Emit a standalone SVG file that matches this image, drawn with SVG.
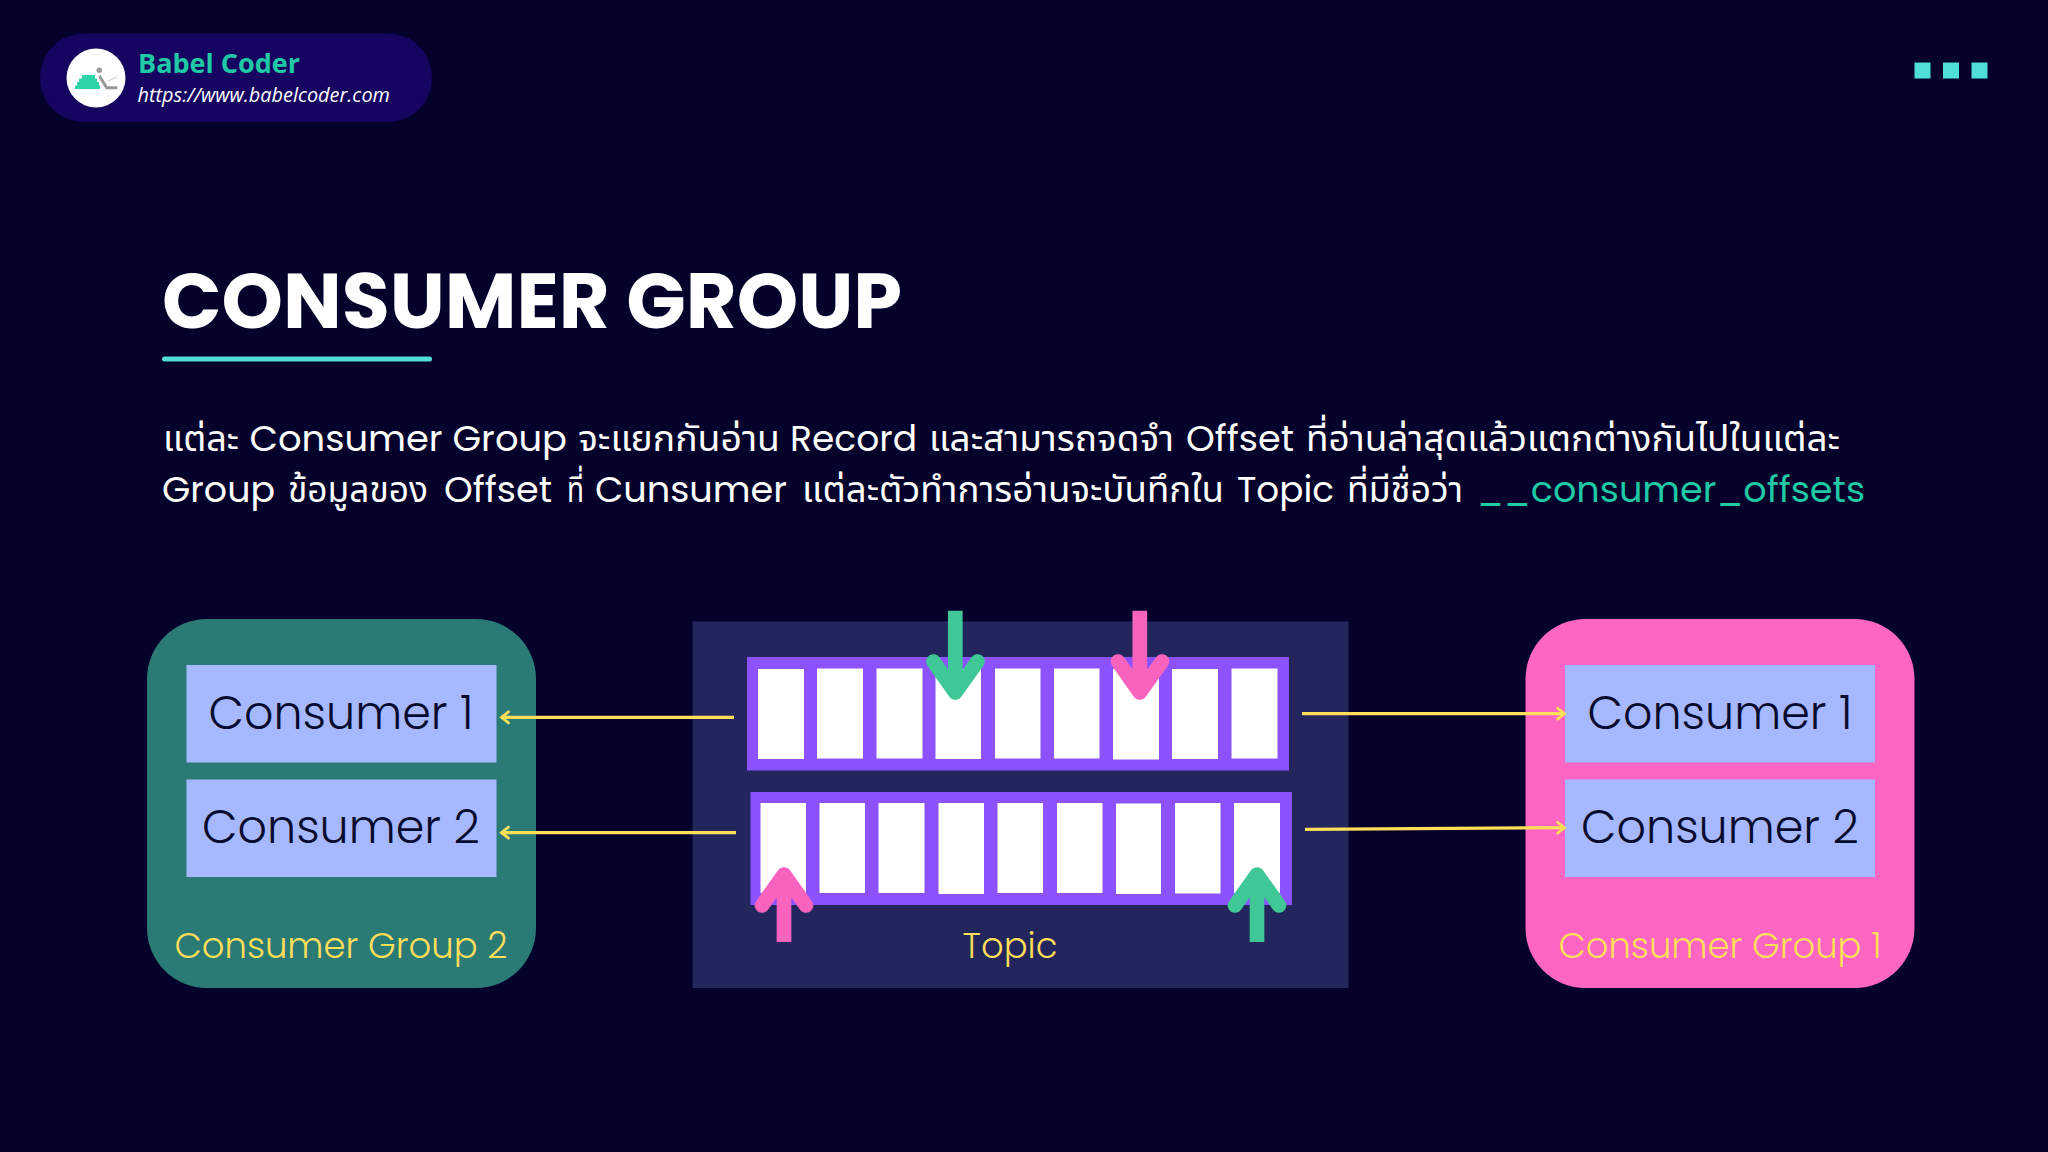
<svg xmlns="http://www.w3.org/2000/svg" width="2048" height="1152" viewBox="0 0 2048 1152">
<defs>
<marker id="arr" markerWidth="12" markerHeight="16" refX="10" refY="8" orient="auto" markerUnits="userSpaceOnUse"><path d="M2.500 2.500 L9.500 8 L2.500 13.500" fill="none" stroke="#ffde59" stroke-width="2.800" stroke-linecap="round"/></marker>
</defs>
<style>
.c{fill:#a6b8ff}
.ct{font-family:"Poppins","Inter","Noto Sans",sans-serif;font-size:46px;font-weight:300;fill:#060b2e;text-anchor:middle}
.gt{font-family:"Poppins","Inter","Noto Sans",sans-serif;font-size:35.400px;font-weight:300;fill:#ffde59;text-anchor:middle}
.b{font-family:"Poppins","Inter","Noto Sans","Noto Sans Thai",sans-serif;font-size:36px;fill:#fff}
.w{fill:#fff}
.p{fill:#8c52ff}
.l{stroke:#ffde59;stroke-width:3.200;fill:none}
</style>
<rect width="2048" height="1152" fill="#04012b"/>
<g id="badge">
<rect x="40" y="33.500" width="392" height="88.500" rx="44" fill="#150561"/>
<circle cx="96" cy="78" r="29.500" fill="#fff"/>
<path d="M82 75h13v3.500h-13zM79 78.500h18v3.500h-18zM77 82h22v3.500h-22zM75 85.500h25v3.500h-25z" fill="#2dd4a8"/>
<circle cx="99.300" cy="70.300" r="2.700" fill="#999"/>
<path d="M99.300 75.700l7.400 12h10.600" stroke="#999" stroke-width="3" fill="none"/>
<path d="M108 81l9-4" stroke="#bbb" stroke-width="0.800" fill="none"/>
<text x="138" y="73" font-family="Open Sans,Noto Sans,sans-serif" font-size="27" font-weight="700" fill="#20c9a6">Babel Coder</text>
<text x="137.500" y="102" font-family="Open Sans,Noto Sans,sans-serif" font-size="19.900" font-style="italic" fill="#fff">https://www.babelcoder.com</text>
</g>
<g id="dots" fill="#4fdfd8"><rect x="1914.500" y="62.500" width="16" height="16"/><rect x="1943" y="62.500" width="16" height="16"/><rect x="1971.500" y="62.500" width="16" height="16"/></g>
<text id="title" x="162" y="328" font-family="Poppins,Inter,Noto Sans,sans-serif" font-size="77" font-weight="700" fill="#fff" textLength="740" lengthAdjust="spacingAndGlyphs">CONSUMER GROUP</text>
<rect x="162" y="356.500" width="270" height="5" rx="2.500" fill="#4fdfd8"/>
<text class="b" y="450.500"><tspan x="163" textLength="76" lengthAdjust="spacingAndGlyphs">แต่ละ</tspan> <tspan x="249.500" textLength="317.500" lengthAdjust="spacingAndGlyphs">Consumer Group</tspan> <tspan x="578" textLength="202" lengthAdjust="spacingAndGlyphs">จะแยกกันอ่าน</tspan> <tspan x="790" textLength="127" lengthAdjust="spacingAndGlyphs">Record</tspan> <tspan x="929" textLength="245" lengthAdjust="spacingAndGlyphs">และสามารถจดจำ</tspan> <tspan x="1186" textLength="108" lengthAdjust="spacingAndGlyphs">Offset</tspan> <tspan x="1306" textLength="534" lengthAdjust="spacingAndGlyphs">ที่อ่านล่าสุดแล้วแตกต่างกันไปในแต่ละ</tspan></text>
<text class="b" y="501.500"><tspan x="162" textLength="113" lengthAdjust="spacingAndGlyphs">Group</tspan> <tspan x="288" textLength="140" lengthAdjust="spacingAndGlyphs">ข้อมูลของ</tspan> <tspan x="444" textLength="108" lengthAdjust="spacingAndGlyphs">Offset</tspan> <tspan x="567" textLength="17" lengthAdjust="spacingAndGlyphs">ที่</tspan> <tspan x="595" textLength="192" lengthAdjust="spacingAndGlyphs">Cunsumer</tspan> <tspan x="802" textLength="422" lengthAdjust="spacingAndGlyphs">แต่ละตัวทำการอ่านจะบันทึกใน</tspan> <tspan x="1237" textLength="97" lengthAdjust="spacingAndGlyphs">Topic</tspan> <tspan x="1347" textLength="116" lengthAdjust="spacingAndGlyphs">ที่มีชื่อว่า</tspan> <tspan x="1477" fill="#20c9a6" textLength="388" lengthAdjust="spacingAndGlyphs">__consumer_offsets</tspan></text>
<g id="group2"><rect x="147" y="619" width="389" height="369" rx="60" fill="#2a7a75"/><text class="gt" x="341" y="958">Consumer Group 2</text></g>
<g id="g2c1"><rect class="c" x="186.500" y="665" width="310" height="97.500"/><text class="ct" x="341" y="729">Consumer 1</text></g>
<g id="g2c2"><rect class="c" x="186.500" y="779.500" width="310" height="97.500"/><text class="ct" x="341" y="843">Consumer 2</text></g>
<g id="group1"><rect x="1525.500" y="619" width="389" height="369" rx="60" fill="#ff66c4"/><text class="gt" x="1720" y="958">Consumer Group 1</text></g>
<g id="g1c1"><rect class="c" x="1565" y="665" width="310" height="97.500"/><text class="ct" x="1720" y="729">Consumer 1</text></g>
<g id="g1c2"><rect class="c" x="1565" y="779.500" width="310" height="97.500"/><text class="ct" x="1720" y="843">Consumer 2</text></g>
<g id="topic">
<rect x="692.500" y="621.500" width="656" height="366.500" fill="#23265c"/>
<rect class="p" x="747" y="657" width="542" height="113.500"/>
<rect class="p" x="750.500" y="792" width="541.500" height="113"/>
<g class="w">
<rect x="758" y="669" width="46" height="90"/><rect x="817" y="668.500" width="46" height="90"/><rect x="876.500" y="668.500" width="46" height="90"/><rect x="935.500" y="669" width="45.500" height="90"/><rect x="995" y="668.500" width="45.500" height="90"/><rect x="1054" y="668.500" width="45.500" height="90"/><rect x="1113" y="669" width="46" height="90.500"/><rect x="1172" y="669" width="46" height="90"/><rect x="1231.500" y="668.500" width="46" height="90"/>
<rect x="760.500" y="803" width="45.500" height="90"/><rect x="819.500" y="803" width="45.500" height="90"/><rect x="878.500" y="803" width="46" height="90"/><rect x="938.500" y="803" width="45.500" height="91"/><rect x="997.500" y="803" width="45.500" height="90"/><rect x="1057" y="803" width="45.500" height="90"/><rect x="1116" y="803.500" width="45" height="90.500"/><rect x="1175" y="803" width="45.500" height="90.500"/><rect x="1234" y="803" width="46" height="90"/>
</g>
<text class="gt" x="1010" y="958">Topic</text>
</g>
<g id="connectors">
<line class="l" x1="734" y1="717.300" x2="501" y2="717.300" marker-end="url(#arr)"/>
<line class="l" x1="736" y1="832.700" x2="501" y2="832.700" marker-end="url(#arr)"/>
<line class="l" x1="1302" y1="713.700" x2="1565" y2="713.700" marker-end="url(#arr)"/>
<line class="l" x1="1305" y1="829.300" x2="1565" y2="827.700" marker-end="url(#arr)"/>
<g fill="none" stroke-width="14.700" stroke-linecap="round" stroke-linejoin="round">
<g stroke="#3fc796"><path d="M955.300 610.700V690" stroke-linecap="butt"/><path d="M933.500 661.500L955.300 692.500L977.500 661.500"/></g>
<g stroke="#f763bd"><path d="M1139.800 610.700V690" stroke-linecap="butt"/><path d="M1118 661.500L1139.800 692.500L1162 661.500"/></g>
<g stroke="#f763bd"><path d="M784 942V880" stroke-linecap="butt"/><path d="M762 905.500L784 874.500L806 905.500"/></g>
<g stroke="#3fc796"><path d="M1257 942V880" stroke-linecap="butt"/><path d="M1235 905.500L1257 874.500L1279 905.500"/></g>
</g>
</g>
</svg>
